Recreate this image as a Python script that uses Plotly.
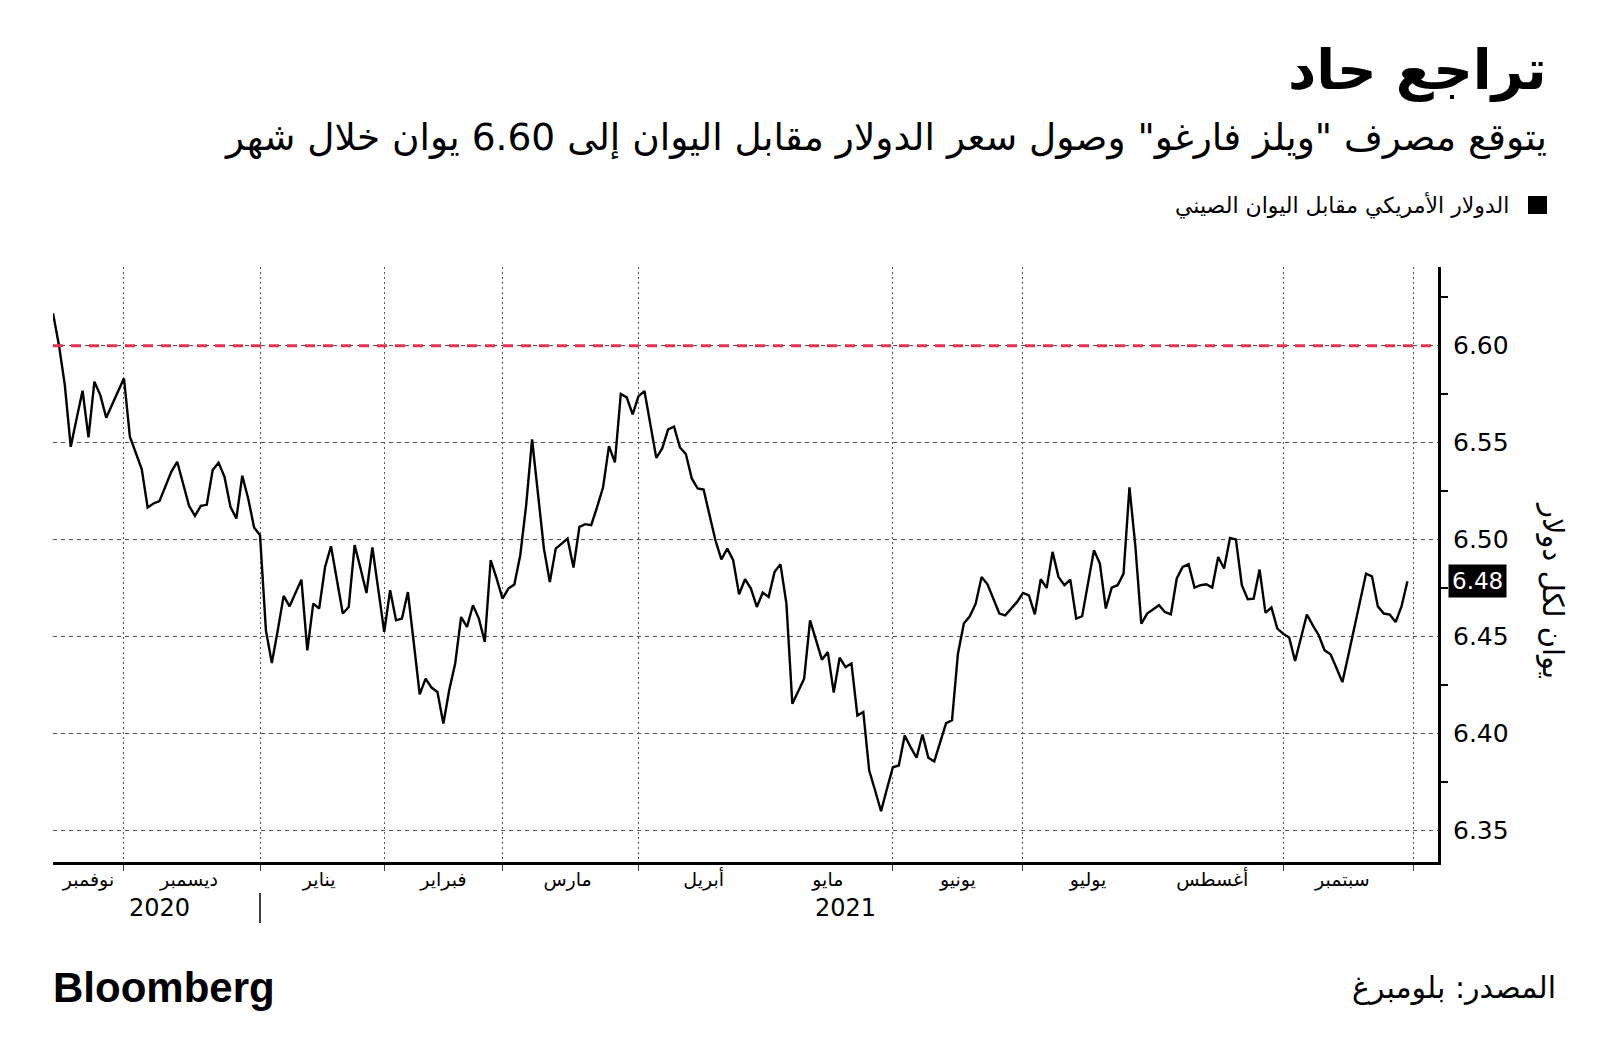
import plotly.graph_objects as go
import pandas as pd

# ---------------- data (USD/CNY) ----------------
nov = [6.6167, 6.6004, 6.5797, 6.5478, 6.5625, 6.5768, 6.5527, 6.5814, 6.5745, 6.5628, 6.5697, 6.5762]
dec = [6.5832, 6.5530, 6.5444, 6.5363, 6.5165, 6.5186, 6.5198, 6.5272, 6.5349, 6.5401, 6.5289, 6.5174,
       6.5122, 6.5174, 6.5179, 6.5358, 6.5396, 6.5323, 6.5169, 6.5108, 6.5329, 6.5212, 6.5062]
jan = [6.5022, 6.4531, 6.4363, 6.4531, 6.4709, 6.4655, 6.4724, 6.4793, 6.4428, 6.4669, 6.4644, 6.4858,
       6.4965, 6.4790, 6.4618, 6.4652, 6.4971, 6.4850, 6.4724, 6.4959, 6.4742]
feb = [6.4523, 6.4738, 6.4583, 6.4592, 6.4729, 6.4466, 6.4201, 6.4282, 6.4236, 6.4213, 6.4050, 6.4225,
       6.4360, 6.4600, 6.4549, 6.4661, 6.4592, 6.4471, 6.4893, 6.4799]
mar = [6.4695, 6.4747, 6.4768, 6.4919, 6.5177, 6.5517, 6.5238, 6.4953, 6.4781, 6.4953, 6.4979, 6.5005,
       6.4855, 6.5065, 6.5079, 6.5074, 6.5168, 6.5269, 6.5482, 6.5398, 6.5751, 6.5733, 6.5646]
apr = [6.5740, 6.5766, 6.5599, 6.5421, 6.5470, 6.5568, 6.5582, 6.5475, 6.5441, 6.5315, 6.5263, 6.5258,
       6.5126, 6.4996, 6.4897, 6.4953, 6.4893, 6.4717, 6.4795, 6.4747, 6.4652, 6.4726]
may = [6.4704, 6.4833, 6.4872, 6.4669, 6.4153, 6.4218, 6.4282, 6.4583, 6.4480, 6.4380, 6.4419, 6.4210,
       6.4390, 6.4342, 6.4360, 6.4092, 6.4110, 6.3808, 6.3705, 6.3598, 6.3714]
jun = [6.3825, 6.3834, 6.3989, 6.3929, 6.3874, 6.3994, 6.3874, 6.3855, 6.3955, 6.4053, 6.4067, 6.4411,
       6.4566, 6.4604, 6.4669, 6.4807, 6.4769, 6.4695, 6.4618, 6.4609, 6.4644, 6.4678]
jul = [6.4724, 6.4712, 6.4614, 6.4795, 6.4750, 6.4936, 6.4807, 6.4764, 6.4793, 6.4592, 6.4604, 6.4773,
       6.4945, 6.4876, 6.4644, 6.4752, 6.4764, 6.4824, 6.5269, 6.4965, 6.4566, 6.4618]
aug = [6.4638, 6.4661, 6.4626, 6.4614, 6.4799, 6.4858, 6.4872, 6.4752, 6.4764, 6.4769, 6.4752, 6.4910,
       6.4850, 6.5008, 6.5000, 6.4764, 6.4692, 6.4695, 6.4845, 6.4621, 6.4649, 6.4540]
sep = [6.4514, 6.4494, 6.4373, 6.4489, 6.4613, 6.4557, 6.4506, 6.4428, 6.4408, 6.4337, 6.4264, 6.4402,
       6.4540, 6.4687, 6.4824, 6.4810, 6.4655, 6.4618, 6.4613, 6.4574, 6.4655, 6.4785]

values = nov + dec + jan + feb + mar + apr + may + jun + jul + aug + sep
dates = pd.bdate_range("2020-11-13", "2021-09-30")
assert len(dates) == len(values)

month_starts = ["2020-12-01", "2021-01-01", "2021-02-01", "2021-03-01", "2021-04-01", "2021-05-01",
                "2021-06-01", "2021-07-01", "2021-08-01", "2021-09-01", "2021-10-01"]
month_label_dates = ["2020-11-23", "2020-12-16", "2021-01-15", "2021-02-15", "2021-03-16", "2021-04-16",
                     "2021-05-17", "2021-06-16", "2021-07-16", "2021-08-16", "2021-09-15"]
month_labels = ["نوفمبر", "ديسمبر", "يناير", "فبراير", "مارس", "أبريل", "مايو", "يونيو", "يوليو",
                "أغسطس", "سبتمبر"]
year_labels = ["2020", "2021"]
year_label_dates = ["2020-12-09", "2021-05-20"]
year_divider = "2021-01-01"

y_ticks = [6.35, 6.40, 6.45, 6.50, 6.55, 6.60]
y_minor = [6.375, 6.425, 6.475, 6.525, 6.575, 6.625]
target = 6.60

title = "تراجع حاد"
subtitle = 'يتوقع مصرف "ويلز فارغو" وصول سعر الدولار مقابل اليوان إلى 6.60 يوان خلال شهر'
legend_text = "الدولار الأمريكي مقابل اليوان الصيني"
y_title = "يوان لكل دولار"
source = "المصدر: بلومبرغ"

# ---------------- layout helpers ----------------
W, H = 1600, 1064
L, R, T, B = 53, 1438, 267, 862


def px(X):
    return (X - L) / (R - L)


def py(Y):
    return (B - Y) / (B - T)


AR = "DejaVu Sans"
NUM = "DejaVu Sans"
LAT = "Liberation Sans, Arial, sans-serif"

fig = go.Figure()
fig.add_trace(go.Scatter(x=dates, y=values, mode="lines",
                         line=dict(color="black", width=2.4), hoverinfo="skip"))
# small triangles at the labelled y ticks
fig.add_trace(go.Scatter(x=[px(R + 4)] * len(y_ticks), y=y_ticks, xaxis="x2", mode="markers",
                         marker=dict(symbol="triangle-right", size=8, color="black"),
                         cliponaxis=False, hoverinfo="skip"))
# pointer of the last-value tag
fig.add_trace(go.Scatter(x=[px(R + 8)], y=[values[-1]], xaxis="x2", mode="markers",
                         marker=dict(symbol="triangle-left", size=15, color="black"),
                         cliponaxis=False, hoverinfo="skip"))

fig.update_layout(
    width=W, height=H,
    margin=dict(l=L, r=W - R, t=T, b=H - B, pad=0),
    paper_bgcolor="white", plot_bgcolor="white", showlegend=False,
    xaxis=dict(
        type="date", range=["2020-11-13", "2021-10-07 04:00"],
        rangebreaks=[dict(bounds=["sat", "mon"])],
        tickmode="array", tickvals=month_label_dates, ticktext=month_labels,
        ticks="", showgrid=False, zeroline=False,
        tickfont=dict(family=AR, size=19, color="black"), ticklabelstandoff=-2,
        showline=True, linecolor="black", linewidth=3,
        minor=dict(tickmode="array", tickvals=month_starts, ticks="outside", ticklen=6,
                   tickcolor="#444", tickwidth=1, showgrid=True, gridcolor="#555",
                   griddash="2px,3px", gridwidth=1),
        fixedrange=True,
    ),
    xaxis2=dict(overlaying="x", range=[0, 1], visible=False, fixedrange=True),
    yaxis=dict(
        side="right", range=[6.3336, 6.6406],
        tickmode="array", tickvals=y_ticks, ticktext=[f"{v:.2f}" for v in y_ticks],
        ticks="", showgrid=True, gridcolor="#555", griddash="4px,4px", gridwidth=1,
        zeroline=False, showline=True, linecolor="black", linewidth=3,
        tickfont=dict(family=NUM, size=25, color="black"), ticklabelstandoff=7,
        minor=dict(tickmode="array", tickvals=y_minor, ticks="outside", ticklen=7,
                   tickwidth=2, tickcolor="black", showgrid=False),
        fixedrange=True,
    ),
)

shapes = [
    dict(type="line", xref="paper", yref="y", x0=0, x1=1, y0=target, y1=target,
         line=dict(color="#e6334d", width=3, dash="10px,8px"), layer="above"),
    dict(type="rect", xref="paper", yref="paper", x0=px(1528), x1=px(1547), y0=py(214), y1=py(196),
         fillcolor="black", line=dict(width=0)),
    dict(type="line", xref="x", yref="paper", x0=year_divider, x1=year_divider, y0=py(893), y1=py(923),
         line=dict(color="black", width=1.5)),
]
fig.update_layout(shapes=shapes)

ann = [
    dict(text=f"<b>{title}</b>", x=px(1549), y=py(70), xanchor="right", yanchor="middle",
         font=dict(family=AR, size=55, color="black")),
    dict(text=subtitle, x=px(1549), y=py(137), xanchor="right", yanchor="middle",
         font=dict(family=AR, size=37.5, color="black")),
    dict(text=legend_text, x=px(1511), y=py(206), xanchor="right", yanchor="middle",
         font=dict(family=AR, size=22, color="black")),
    dict(text=y_title, x=px(1553), y=py(590), xanchor="center", yanchor="middle", textangle=90,
         font=dict(family=AR, size=29, color="black")),
    dict(text=source, x=px(1558), y=py(987), xanchor="right", yanchor="middle",
         font=dict(family=AR, size=30, color="black")),
    dict(text="<b>Bloomberg</b>", x=px(51), y=py(987), xanchor="left", yanchor="middle",
         font=dict(family=LAT, size=42, color="black")),
]
for a in ann:
    a.update(xref="paper", yref="paper", showarrow=False)
for lbl, d in zip(year_labels, year_label_dates):
    ann.append(dict(text=lbl, x=d, xref="x", y=py(908), yref="paper", showarrow=False,
                    xanchor="center", yanchor="middle", font=dict(family=NUM, size=24, color="black")))
ann.append(dict(text=f"{values[-1]:.2f}", x=px(1448), xref="paper", y=values[-1], yref="y",
                xanchor="left", yanchor="middle", showarrow=False, bgcolor="black", borderpad=3,
                font=dict(family=NUM, size=23, color="white")))
fig.update_layout(annotations=ann)

fig.write_html("out.html")
